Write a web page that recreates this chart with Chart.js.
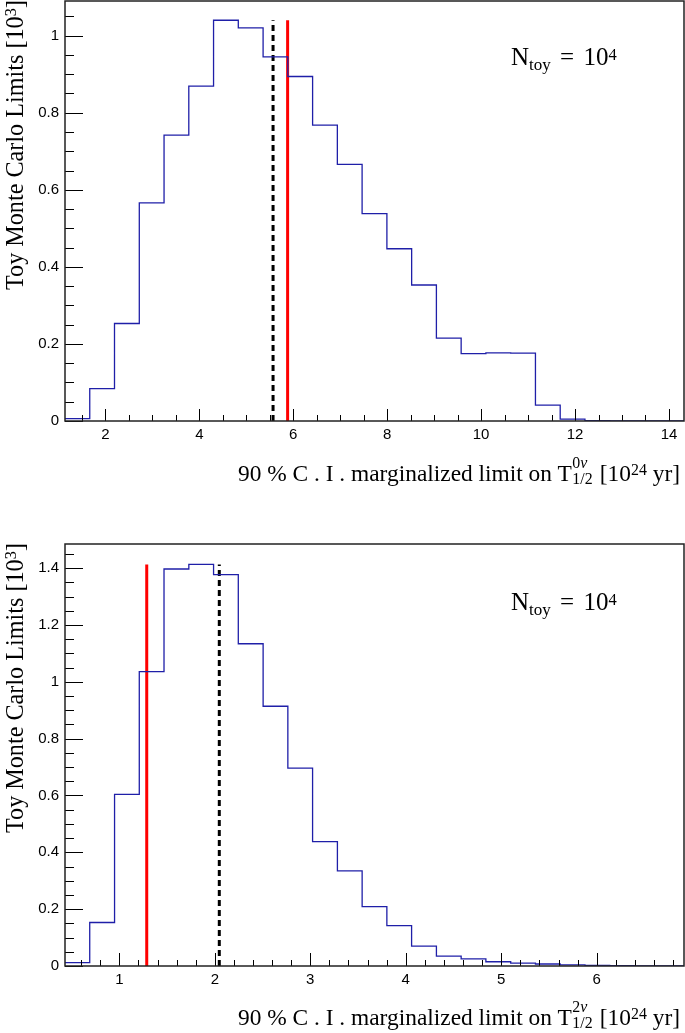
<!DOCTYPE html>
<html><head><meta charset="utf-8">
<script src="https://cdn.jsdelivr.net/npm/chart.js@4.4.0/dist/chart.umd.min.js"></script>
<style>
html,body{margin:0;padding:0;background:#fff;}
#wrap{position:relative;width:685px;height:1033px;overflow:hidden;background:#fff;}
canvas{position:absolute;left:0;}
.t{position:absolute;font-family:"Liberation Serif","Times New Roman",serif;color:#000;white-space:nowrap;line-height:1;font-size:23.4px;}
.xt{text-align:right;width:600px;}
.yt{text-align:right;width:400px;transform-origin:0 0;transform:rotate(-90deg);font-size:24.2px;}
.ss{display:inline-block;position:relative;width:0.95em;height:1em;vertical-align:baseline;}
.sp{position:absolute;left:0.04em;top:-0.16em;font-size:0.68em;}
.sb{position:absolute;left:0.04em;top:0.82em;font-size:0.68em;}
.nu{font-style:italic;}
.up{font-size:0.68em;vertical-align:0.4em;line-height:0;}
.nt{font-size:25px;}
.nt .sub{font-size:0.68em;vertical-align:-5px;line-height:0;}
.nt .sup{font-size:0.66em;vertical-align:5px;line-height:0;}
.nt .eq{margin:0 3px;}
</style></head>
<body><div id="wrap">
<canvas id="c1" style="top:0" width="685" height="505"></canvas>
<canvas id="c2" style="top:505px" width="685" height="528"></canvas>

<div class="t yt" style="left:3px;top:400px;">Toy Monte Carlo Limits [10<span class="up">3</span>]</div>
<div class="t xt" style="right:5px;top:458px;">90 % C . I . marginalized limit on T<span class="ss"><span class="sp">0<span class="nu">ν</span></span><span class="sb">1/2</span></span> [10<span class="up">24</span> yr]</div>
<div class="t nt" style="left:511px;top:44px;">N<span class="sub">toy</span><span class="eq"> = </span>10<span class="sup">4</span></div>

<div class="t yt" style="left:3px;top:943px;">Toy Monte Carlo Limits [10<span class="up">3</span>]</div>
<div class="t xt" style="right:5px;top:1002px;">90 % C . I . marginalized limit on T<span class="ss"><span class="sp">2<span class="nu">ν</span></span><span class="sb">1/2</span></span> [10<span class="up">24</span> yr]</div>
<div class="t nt" style="left:511px;top:589px;">N<span class="sub">toy</span><span class="eq"> = </span>10<span class="sup">4</span></div>
</div>
<script>
// ---------- data ----------
// Top panel: 0νββ half-life limits, 25 bins
const topBinEdges = [1.14, 1.667, 2.194, 2.722, 3.249, 3.776, 4.303, 4.830, 5.358, 5.885, 6.412, 6.939, 7.466, 7.994, 8.521, 9.048, 9.575, 10.102, 10.630, 11.157, 11.684, 12.211, 12.738, 13.266, 13.793, 14.32];
const topCounts   = [0.006, 0.084, 0.253, 0.566, 0.742, 0.869, 1.040, 1.020, 0.945, 0.894, 0.768, 0.666, 0.538, 0.447, 0.353, 0.215, 0.175, 0.177, 0.176, 0.041, 0.005, 0.001, 0, 0, 0];
const topObserved = 5.88;   // red solid line
const topMedian   = 5.57;   // black dashed line
const topXTicks = [2, 4, 6, 8, 10, 12, 14];
const topYTicks = [0, 0.2, 0.4, 0.6, 0.8, 1];

// Bottom panel: 2νββ half-life limits, 25 bins
const botBinEdges = [0.431, 0.690, 0.950, 1.209, 1.468, 1.728, 1.987, 2.246, 2.506, 2.765, 3.024, 3.284, 3.543, 3.802, 4.061, 4.321, 4.580, 4.839, 5.099, 5.358, 5.617, 5.877, 6.136, 6.395, 6.655, 6.914];
const botCounts   = [0.012, 0.153, 0.604, 1.036, 1.397, 1.413, 1.377, 1.134, 0.914, 0.696, 0.438, 0.335, 0.209, 0.142, 0.070, 0.035, 0.025, 0.015, 0.010, 0.007, 0.004, 0.002, 0.001, 0, 0];
const botObserved = 1.287;  // red solid line
const botMedian   = 2.047;  // black dashed line
const botXTicks = [1, 2, 3, 4, 5, 6];
const botYTicks = [0, 0.2, 0.4, 0.6, 0.8, 1, 1.2, 1.4];

// ---------- drawing ----------
const fmt = v => String(Math.round(v * 100) / 100);

const rootAxes = {
  id: 'rootAxes',
  afterDatasetsDraw(chart, args, o) {
    const {ctx, chartArea: a} = chart;
    const x = chart.scales.x, y = chart.scales.y;
    ctx.save();
    ctx.strokeStyle = '#000';
    ctx.lineWidth = 1;
    ctx.beginPath();
    const isMaj = (v, s) => Math.abs(v / s - Math.round(v / s)) < 1e-6;
    for (let i = Math.ceil(x.min / o.xMinor - 1e-9); i * o.xMinor <= x.max + 1e-9; i++) {
      const v = i * o.xMinor;
      const px = Math.round(x.getPixelForValue(v)) + 0.5;
      const len = isMaj(v, o.xMajor) ? o.xMajLen : o.xMinLen;
      ctx.moveTo(px, a.bottom); ctx.lineTo(px, a.bottom - len);
    }
    for (let i = Math.ceil(y.min / o.yMinor - 1e-9); i * o.yMinor <= y.max + 1e-9; i++) {
      const v = i * o.yMinor;
      const py = Math.round(y.getPixelForValue(v)) + 0.5;
      const len = isMaj(v, o.yMajor) ? o.yMajLen : o.yMinLen;
      ctx.moveTo(a.left, py); ctx.lineTo(a.left + len, py);
    }
    ctx.stroke();
    ctx.strokeStyle = '#222';
    ctx.lineWidth = 1.5;
    ctx.strokeRect(a.left, a.top, a.right - a.left, a.bottom - a.top);
    ctx.restore();
  }
};

function makeChart(id, edges, counts, observed, median, xTicks, yTicks, cfg) {
  const hist = counts.map((c, i) => ({x: edges[i], y: c}));
  hist.push({x: edges[edges.length - 1], y: counts[counts.length - 1]});
  hist.push({x: edges[edges.length - 1], y: 0});
  const top = Math.max(...counts);
  const tickFont = {family: '"Liberation Sans", Arial, Helvetica, sans-serif', size: 15};
  return new Chart(document.getElementById(id), {
    type: 'line',
    data: {
      datasets: [
        {data: hist, borderColor: '#1f1fa8', borderWidth: 1.3, stepped: 'before', pointRadius: 0, fill: false},
        {data: [{x: median, y: 0}, {x: median, y: top}], borderColor: '#000', borderWidth: 3, borderDash: [6, 4], pointRadius: 0, fill: false},
        {data: [{x: observed, y: 0}, {x: observed, y: top}], borderColor: '#ff0000', borderWidth: 3, pointRadius: 0, fill: false}
      ]
    },
    options: {
      responsive: false, animation: false, devicePixelRatio: 1,
      layout: {padding: {top: cfg.padTop, right: 1, left: 0, bottom: 0}},
      plugins: {legend: {display: false}, tooltip: {enabled: false},
        rootAxes: cfg.ticks},
      scales: {
        x: {type: 'linear', min: cfg.xMin, max: cfg.xMax,
          afterBuildTicks: s => { s.ticks = xTicks.map(v => ({value: v})); },
          afterFit: s => { s.height = cfg.xH; s.paddingLeft = 0; s.paddingRight = 0; },
          grid: {display: false, drawTicks: false}, border: {display: false},
          ticks: {font: tickFont, color: '#000', padding: 5, maxRotation: 0, autoSkip: false, callback: v => fmt(v)}},
        y: {type: 'linear', min: 0, max: cfg.yMax,
          afterBuildTicks: s => { s.ticks = yTicks.map(v => ({value: v})); },
          afterFit: s => { s.width = 65; s.paddingTop = 0; s.paddingBottom = 0; },
          grid: {display: false, drawTicks: false}, border: {display: false},
          ticks: {font: tickFont, color: '#000', padding: 6, autoSkip: false, callback: v => fmt(v)}}
      }
    },
    plugins: [rootAxes]
  });
}

makeChart('c1', topBinEdges, topCounts, topObserved, topMedian, topXTicks, topYTicks,
  {padTop: 1, xH: 84, xMin: 1.14, xMax: 14.32, yMax: 1.09,
   ticks: {xMinor: 0.5, xMajor: 2, xMajLen: 12, xMinLen: 6, yMinor: 0.05, yMajor: 0.2, yMajLen: 18, yMinLen: 9}});
makeChart('c2', botBinEdges, botCounts, botObserved, botMedian, botXTicks, botYTicks,
  {padTop: 39, xH: 67, xMin: 0.431, xMax: 6.914, yMax: 1.485,
   ticks: {xMinor: 0.2, xMajor: 1, xMajLen: 13, xMinLen: 6, yMinor: 0.05, yMajor: 0.2, yMajLen: 18, yMinLen: 9}});
</script>
</body></html>
